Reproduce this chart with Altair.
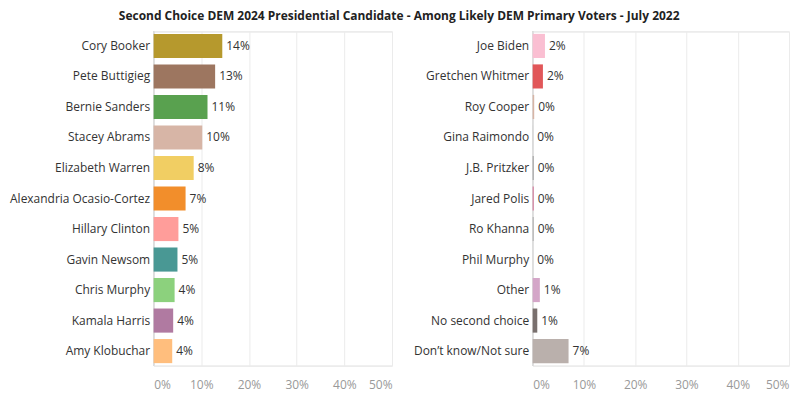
import altair as alt
import pandas as pd

left_names = ["Cory Booker", "Pete Buttigieg", "Bernie Sanders", "Stacey Abrams",
              "Elizabeth Warren", "Alexandria Ocasio-Cortez", "Hillary Clinton",
              "Gavin Newsom", "Chris Murphy", "Kamala Harris", "Amy Klobuchar"]
left_values = [0.144, 0.129, 0.113, 0.102, 0.084, 0.067, 0.052, 0.050, 0.044, 0.041, 0.039]
left_colors = ["#B6992D", "#9D7660", "#59A14F", "#D7B5A6", "#F1CE63", "#F28E2B",
               "#FF9D9A", "#499894", "#8CD17D", "#B07AA1", "#FFBE7D"]

right_names = ["Joe Biden", "Gretchen Whitmer", "Roy Cooper", "Gina Raimondo",
               "J.B. Pritzker", "Jared Polis", "Ro Khanna", "Phil Murphy", "Other",
               "No second choice", "Don\u2019t know/Not sure"]
right_values = [0.024, 0.020, 0.003, 0.001, 0.002, 0.002, 0.002, 0.001, 0.014, 0.009, 0.070]
right_colors = ["#FABFD2", "#E15759", "#D7B5A6", "#D4D4D4", "#A0A0A0", "#D37295",
                "#B0B0B0", "#E0E0E0", "#D4A6C8", "#79706E", "#BAB0AC"]

x_ticks = [0, 0.1, 0.2, 0.3, 0.4, 0.5]
FONT = "Open Sans"


def panel(names, values, colors, width):
    df = pd.DataFrame({"name": names, "value": values})
    x = alt.X("value:Q",
              scale=alt.Scale(domain=[0, 0.5], nice=False),
              axis=alt.Axis(values=x_ticks, format=".0%", title=None, labelFlush=True,
                            labelColor="#999999", labelFontSize=12, labelFont=FONT,
                            domain=False, ticks=False, grid=True, gridColor="#ebebeb",
                            labelPadding=14))
    y = alt.Y("name:N", sort=names,
              scale=alt.Scale(paddingInner=0.21, paddingOuter=0.08),
              axis=alt.Axis(title=None, domain=False, ticks=False, labelFontSize=12,
                            labelFont=FONT, labelColor="#333333", labelPadding=4,
                            labelLimit=300))
    base = alt.Chart(df)
    bars = base.mark_bar().encode(
        x=x, y=y,
        color=alt.Color("name:N", scale=alt.Scale(domain=names, range=colors), legend=None),
    )
    zero = base.mark_rule(color="#dddddd").encode(x=alt.datum(0))
    text = base.mark_text(align="left", dx=4, fontSize=12, font=FONT, color="#333333").encode(
        x="value:Q", y=alt.Y("name:N", sort=names),
        text=alt.Text("value:Q", format=".0%"),
    )
    return (zero + bars + text).properties(width=width, height=335)


left = panel(left_names, left_values, left_colors, 239)
right = panel(right_names, right_values, right_colors, 257)

chart = alt.hconcat(left, right, spacing=19).resolve_scale(color="independent").properties(
    title=alt.Title("Second Choice DEM 2024 Presidential Candidate - Among Likely DEM Primary Voters - July 2022",
                    fontSize=12, font=FONT, fontWeight="bold", color="#222222",
                    anchor="middle", offset=7),
    background="white",
).configure_view(stroke=None).configure(padding={"left": 0, "right": 5, "top": 2, "bottom": 5})

chart.save("out.html", embed_options={"renderer": "svg", "actions": False})
